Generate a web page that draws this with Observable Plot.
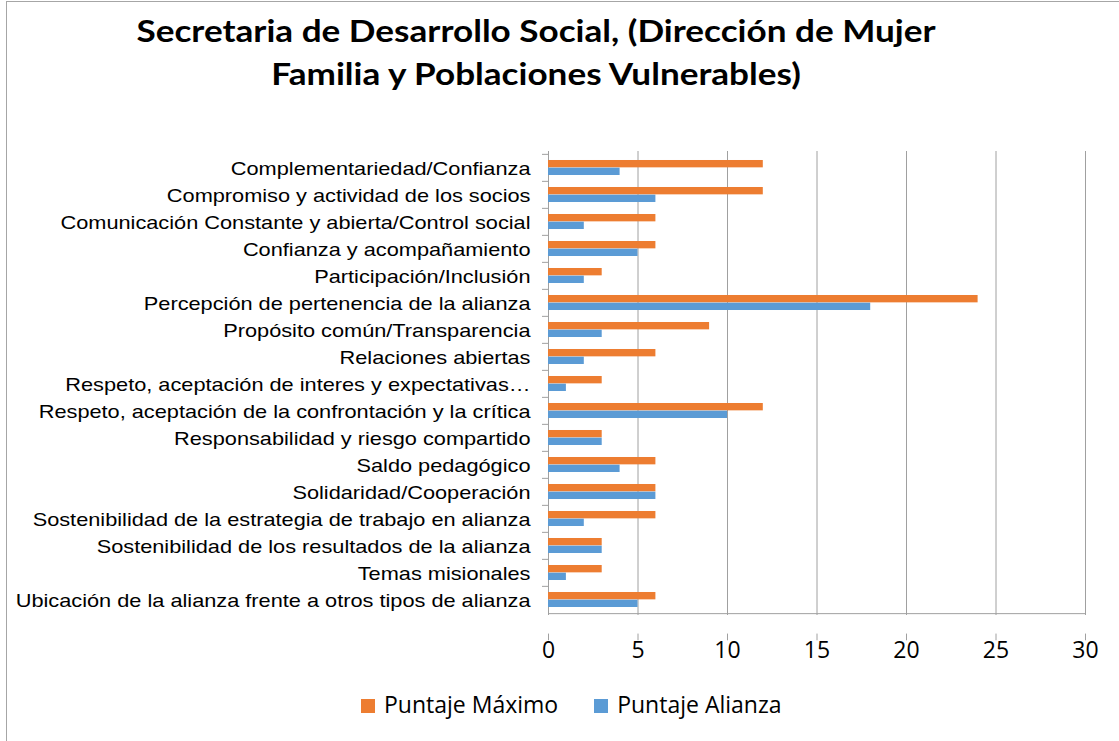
<!DOCTYPE html>
<html><head><meta charset="utf-8">
<script src="https://cdn.jsdelivr.net/npm/d3@7"></script>
<script src="https://cdn.jsdelivr.net/npm/@observablehq/plot@0.6"></script>
<style>
body{margin:0;background:#fff;}
#wrap{position:relative;width:1119px;height:741px;overflow:hidden;background:#fff;}
#border{position:absolute;left:6px;top:1px;width:1300px;height:900px;border:1px solid #a6a6a6;}
#title{position:absolute;left:0;top:9px;width:1072px;text-align:center;font-family:Lato;font-weight:700;font-size:30px;line-height:43px;color:#000;transform:scaleX(1.17);transform-origin:536px 0;}
#chart{position:absolute;left:0;top:120px;}
#legend{position:absolute;left:361px;top:689px;display:flex;font-family:"Open Sans";font-size:23px;line-height:30px;color:#000;}
.item{display:flex;align-items:flex-start;margin-right:36px;}
.sw{width:14px;height:14px;margin-top:10px;margin-right:9px;}
</style></head>
<body>
<div id="wrap">
  <div id="border"></div>
  <div id="title">Secretaria de Desarrollo Social, (Dirección de Mujer<br>Familia y Poblaciones Vulnerables)</div>
  <div id="chart"></div>
  <div id="legend"></div>
</div>
<script>
const categories = [
  "Complementariedad/Confianza",
  "Compromiso y actividad de los socios",
  "Comunicación Constante y abierta/Control social",
  "Confianza y acompañamiento",
  "Participación/Inclusión",
  "Percepción de pertenencia de la alianza",
  "Propósito común/Transparencia",
  "Relaciones abiertas",
  "Respeto, aceptación de interes y expectativas…",
  "Respeto, aceptación de la confrontación y la crítica",
  "Responsabilidad y riesgo compartido",
  "Saldo pedagógico",
  "Solidaridad/Cooperación",
  "Sostenibilidad de la estrategia de trabajo en alianza",
  "Sostenibilidad de los resultados de la alianza",
  "Temas misionales",
  "Ubicación de la alianza frente a otros tipos de alianza"
];
const puntajeMaximo = [12, 12, 6, 6, 3, 24, 9, 6, 3, 12, 3, 6, 6, 6, 3, 3, 6];
const puntajeAlianza = [4, 6, 2, 5, 2, 18, 3, 2, 1, 10, 3, 4, 6, 2, 3, 1, 5];
const xTicks = [0, 5, 10, 15, 20, 25, 30];
const seriesNames = ["Puntaje Máximo", "Puntaje Alianza"];
const seriesColors = ["#ED7D31", "#5B9BD5"];

const rowsMax = categories.map((c, i) => ({category: c, value: puntajeMaximo[i]}));
const rowsAli = categories.map((c, i) => ({category: c, value: puntajeAlianza[i]}));

const W = 1119, H = 550, mT = 31, mB = 55, mL = 548, mR = 34;
const bandH = (H - mT - mB) / categories.length;
const half = bandH / 2;
const barH = 7.65;
const grid = "#a0a0a0";
const pxPerUnit = (W - mL - mR) / 30;
const lastCat = categories[categories.length - 1];

const svg = Plot.plot({
  width: W, height: H,
  marginTop: mT, marginBottom: mB, marginLeft: mL, marginRight: mR,
  x: {domain: [0, 30], axis: null},
  y: {domain: categories, axis: null, padding: 0},
  style: {background: "transparent", overflow: "visible"},
  marks: [
    Plot.ruleX(xTicks, {x: d => d, stroke: grid, strokeWidth: 1}),
    Plot.ruleY([lastCat], {y: d => d, dy: half, stroke: grid, strokeWidth: 1}),
    Plot.ruleY(categories, {y: d => d, dy: -half, x1: -6 / pxPerUnit, x2: 0, stroke: grid}),
    Plot.tickX(xTicks, {x: d => d, y: () => lastCat, dy: bandH, insetTop: bandH - 7, stroke: grid}),
    Plot.barX(rowsMax, {x: "value", y: "category", fill: seriesColors[0], insetTop: half - barH, insetBottom: half}),
    Plot.barX(rowsAli, {x: "value", y: "category", fill: seriesColors[1], insetTop: half, insetBottom: half - barH}),
    Plot.text(categories, {y: d => d, frameAnchor: "left", dx: -18, dy: 1, textAnchor: "end", fontSize: 19, fontFamily: "Liberation Sans", fill: "#000"}),
    Plot.text(xTicks, {x: d => d, frameAnchor: "bottom", dy: 42, fontSize: 23, fontFamily: "Open Sans", fill: "#000"})
  ]
});
document.getElementById("chart").appendChild(svg);

// stretch category labels horizontally (reference text is wider)
const catSet = new Set(categories);
svg.querySelectorAll("text").forEach(t => {
  if (catSet.has(t.textContent)) {
    const tr = t.getAttribute("transform");
    if (tr) t.setAttribute("transform", tr + " scale(1.145,1)");
  }
});

const legend = document.getElementById("legend");
seriesNames.forEach((name, i) => {
  const item = document.createElement("div");
  item.className = "item";
  const sw = document.createElement("div");
  sw.className = "sw";
  sw.style.background = seriesColors[i];
  const lab = document.createElement("span");
  lab.textContent = name;
  item.appendChild(sw);
  item.appendChild(lab);
  legend.appendChild(item);
});
</script>
</body></html>
